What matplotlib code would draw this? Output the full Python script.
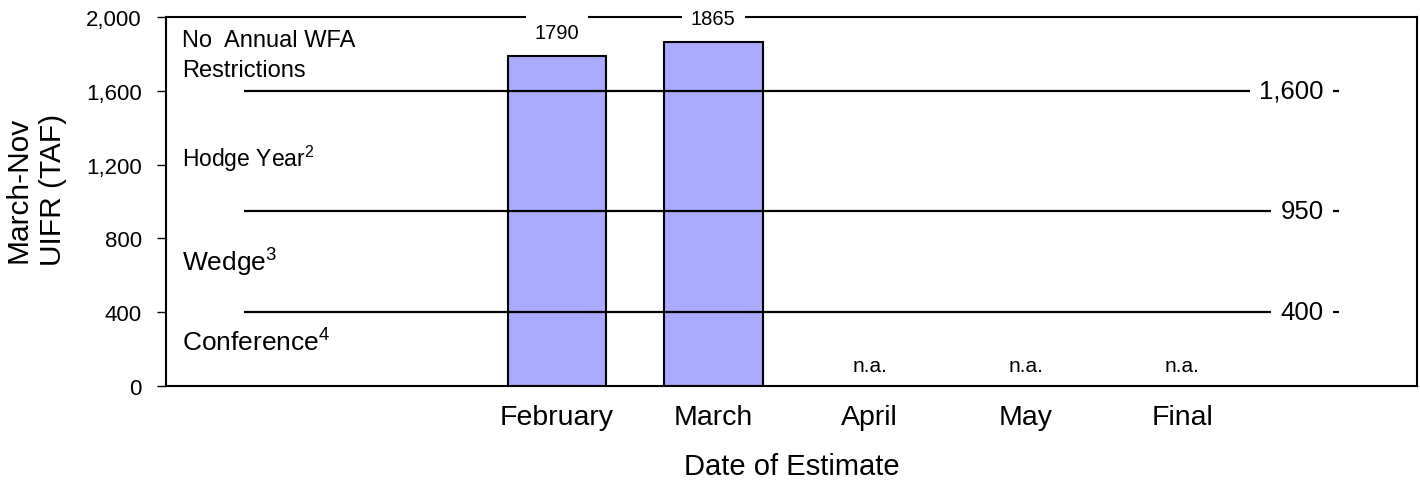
import numpy as np
import matplotlib.pyplot as plt
from matplotlib.ticker import FuncFormatter

# -------- fonts --------
plt.rcParams["font.family"] = ["Liberation Sans", "DejaVu Sans"]
plt.rcParams["mathtext.fontset"] = "custom"
plt.rcParams["mathtext.rm"] = "Liberation Sans"
plt.rcParams["mathtext.it"] = "Liberation Sans:italic"

# -------- data --------
categories  = ["", "", "February", "March", "April", "May", "Final", ""]
bar_cats    = ["February", "March"]
bar_values  = [1790, 1865]
na_cats     = ["April", "May", "Final"]
thresholds  = [1600, 950, 400]
thr_labels  = ["1,600", "950", "400"]
y_ticks     = [0, 400, 800, 1200, 1600, 2000]

zone_texts  = ["No  Annual WFA", "Restrictions", r"Hodge Year$^{\mathrm{2}}$",
               r"Wedge$^{\mathrm{3}}$", r"Conference$^{\mathrm{4}}$"]
zone_y      = [1843, 1680, 1192, 624, 190]
zone_sizes  = [17, 17, 16.5, 19, 19]

BAR_COLOR = "#AAAAFF"
pos = {c: i for i, c in enumerate(categories) if c}

fig = plt.figure(figsize=(14.2, 4.81), dpi=100)
ax = fig.add_axes([0.1169, 0.1954, 0.881, 0.7672])

# ---- bars
xb = [pos[c] for c in bar_cats]
ax.bar(xb, bar_values, width=0.63, color=BAR_COLOR, edgecolor="black",
       linewidth=1.5, zorder=2)
for x, v in zip(xb, bar_values):
    ax.annotate(str(v), xy=(x, v), xytext=(0, 16.5), textcoords="offset points",
                ha="center", va="center", fontsize=14.5, zorder=6,
                bbox=dict(boxstyle="square,pad=0.45", fc="white", ec="none"))

# ---- n.a. labels
for c in na_cats:
    ax.text(pos[c], 80, "n.a.", ha="center", va="baseline", fontsize=15)

# ---- threshold lines with labels at the right end
x_line = np.arange(len(categories))
for v, lab in zip(thresholds, thr_labels):
    ax.plot(x_line, [v] * len(x_line), color="black", lw=1.6, zorder=3,
            solid_capstyle="butt")
    ax.annotate(lab, xy=(x_line[-1], v), xytext=(-11, 0),
                textcoords="offset points", ha="right", va="center",
                fontsize=18.5, zorder=6,
                bbox=dict(boxstyle="square,pad=0.35", fc="white", ec="none"))

# ---- zone labels on the left
for t, y, s in zip(zone_texts, zone_y, zone_sizes):
    ax.text(-0.398, y, t, ha="left", va="baseline", fontsize=s)

# ---- axes
ax.set_xlim(-0.5, len(categories) - 0.5)
ax.set_ylim(0, 2000)
ax.set_xticks(range(len(categories)))
ax.set_xticklabels(categories, fontsize=20.5)
ax.set_yticks(y_ticks)
ax.yaxis.set_major_formatter(FuncFormatter(lambda v, p: f"{int(v):,}"))
ax.tick_params(axis="y", labelsize=16, length=6.5, width=1, pad=11)
ax.tick_params(axis="x", length=0, pad=13)
for s in ax.spines.values():
    s.set_linewidth(1.5)
    s.set_color("black")

ax.set_xlabel("Date of Estimate", fontsize=21, labelpad=16)
ax.set_ylabel("March-Nov\nUIFR (TAF)", fontsize=21.5, linespacing=1.3)
ax.yaxis.set_label_coords(-0.079, 0.534)

fig.savefig("out.png", dpi=100)
